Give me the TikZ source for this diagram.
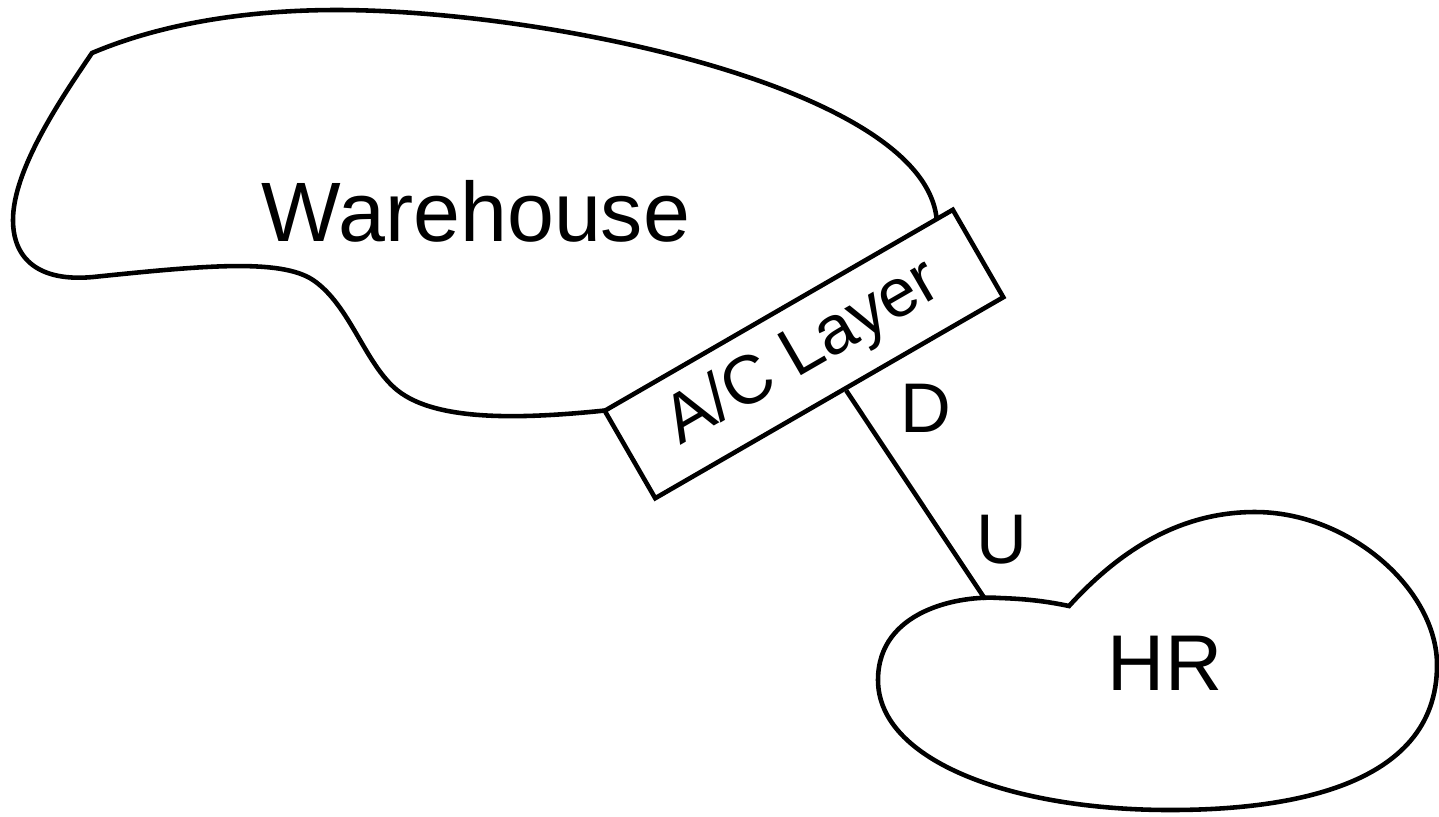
\documentclass[tikz,border=0pt]{standalone}
\usepackage{fontspec}
\setmainfont{Liberation Sans}
\usetikzlibrary{calc}
\tikzstyle{cloud}=[line width=2.6pt,draw=black,fill=white]
\tikzstyle{layer}=[rectangle,
                   line width=2.6pt,
                   draw=black,
                   fill=white,
                   inner sep=0pt,
                   minimum width=8.04cm,
                   minimum height=2.02cm,
                   rotate=30]
\tikzstyle{tag}=[inner sep=0pt]
\begin{document}
\begin{tikzpicture}[x=0.02cm,y=-0.02cm]
    \useasboundingbox (0,0) rectangle (1439,816);
    % warehouse context
    \path[cloud] (92,53) .. controls (170,20) and (260,10) .. (337,10)
      .. controls (550,10) and (935,90) .. (937,225) -- (628,408)
      .. controls (540,418) and (440,425) .. (397,390)
      .. controls (365,364) and (350,305) .. (313,280)
      .. controls (280,258) and (200,266) .. (93,277)
      .. controls (40,282) and (13,260) .. (13,220)
      .. controls (13,170) and (60,100) .. (92,53) -- cycle;
    \node[tag,font=\fontsize{48pt}{56pt}\selectfont] (wh) at (476,211) {Warehouse};
    % hr context
    \path[cloud] (1069,606) .. controls (1120,550) and (1180,512) .. (1255,512)
      .. controls (1350,512) and (1437,590) .. (1437,665)
      .. controls (1437,790) and (1280,810) .. (1170,810)
      .. controls (1010,810) and (878,760) .. (878,680)
      .. controls (878,610) and (960,595) .. (1000,598)
      .. controls (1030,599) and (1050,602) .. (1069,606) -- cycle;
    \node[tag,font=\fontsize{45pt}{54pt}\selectfont] (hr) at (1165,663) {HR};
    % anticorruption layer
    \node[layer,font=\fontsize{39pt}{46pt}\selectfont] (acl) at (804,354) {A/C Layer};
    \coordinate (dend) at ($(acl.south west)!0.545!(acl.south east)$);
    \coordinate (hrtop) at (985,599);
    \draw[line width=2.6pt] (dend) -- (hrtop);
    \node[tag,font=\fontsize{40pt}{48pt}\selectfont] (down) at (926,408) {D};
    \node[tag,font=\fontsize{40pt}{48pt}\selectfont] (up) at (1002,540) {U};
\end{tikzpicture}
\end{document}
